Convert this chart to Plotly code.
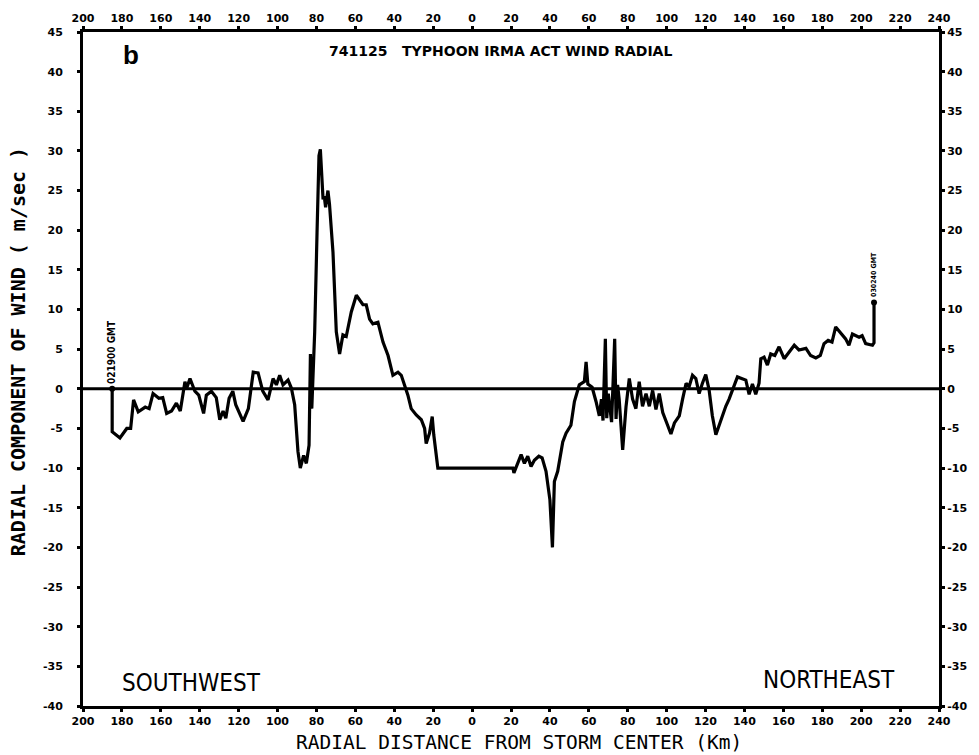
import plotly.graph_objects as go

# Radial distance from storm centre (km): negative = southwest leg, positive = northeast leg
distance_km = [
    -185.0, -185.0, -181.0, -177.5, -175.5, -174.0, -171.6, -168.0, -166.0, -164.0,
    -161.0, -159.0, -157.0, -154.5, -152.0, -150.0, -147.6, -146.8, -145.0, -142.5,
    -140.5, -138.0, -136.6, -134.0, -131.5, -129.7, -128.0, -126.6, -124.9, -123.0,
    -121.5, -117.7, -115.0, -112.5, -110.0, -107.6, -104.9, -102.3, -100.6, -98.9,
    -97.2, -94.6, -92.9, -91.2, -89.5, -88.3, -86.6, -85.2, -83.8, -83.1,
    -82.4, -81.7, -80.9, -79.7, -78.7, -78.0, -77.3, -76.6, -76.0, -75.3,
    -74.1, -73.3, -71.5, -69.8, -68.1, -66.4, -64.7, -62.1, -59.5, -57.8,
    -56.1, -54.4, -52.7, -51.0, -48.4, -45.8, -43.2, -40.7, -38.1, -36.4,
    -34.7, -33.0, -31.3, -28.7, -26.1, -24.4, -23.6, -21.9, -20.5, -19.7,
    -17.6, 21.0, 21.5, 23.5, 25.2, 26.9, 28.6, 30.3, 32.0, 34.3,
    36.0, 38.0, 40.0, 41.3, 42.3, 44.0, 46.6, 48.3, 50.8, 52.6,
    55.1, 57.7, 58.6, 59.5, 61.7, 63.7, 65.4, 66.5, 67.3, 68.5,
    69.2, 70.0, 70.8, 71.7, 72.5, 73.3, 74.0, 74.8, 75.6, 77.4,
    79.1, 80.8, 82.5, 84.2, 85.9, 87.6, 89.4, 91.1, 92.8, 94.5,
    96.2, 98.0, 100.5, 102.2, 104.0, 106.5, 108.2, 110.0, 111.6, 113.3,
    115.0, 116.7, 118.4, 120.1, 121.8, 123.5, 125.3, 127.0, 128.7, 130.4,
    132.1, 133.8, 136.4, 138.5, 140.7, 142.4, 144.1, 145.8, 147.5, 148.4,
    150.1, 151.8, 153.5, 155.6, 157.8, 160.4, 162.8, 165.6, 168.0, 171.6,
    174.0, 176.7, 179.0, 180.9, 183.0, 185.0, 186.9, 189.5, 192.0, 193.7,
    195.5, 198.9, 200.5, 202.3, 205.8, 206.6, 206.6,
]

# Radial component of the wind (m/sec)
radial_wind = [
    0.0, -5.4, -6.2, -5.0, -5.0, -1.4, -2.9, -2.3, -2.5, -0.6,
    -1.2, -1.1, -3.1, -2.8, -1.8, -2.8, 0.9, 0.0, 1.3, -0.3,
    -0.8, -3.1, -0.8, -0.3, -1.1, -3.9, -2.8, -3.7, -1.2, -0.3,
    -2.0, -4.1, -2.5, 2.1, 2.0, -0.3, -1.4, 1.3, 0.5, 1.7,
    0.5, 1.1, 0.1, -2.0, -7.9, -10.0, -8.4, -9.4, -7.1, 4.4,
    -2.5, 1.3, 7.2, 19.7, 29.4, 30.2, 27.0, 23.9, 24.3, 22.9,
    25.0, 23.3, 17.2, 7.2, 4.4, 6.8, 6.6, 9.7, 11.8, 11.2,
    10.6, 10.6, 8.8, 8.2, 8.4, 5.9, 4.2, 1.7, 2.1, 1.7,
    0.5, -0.8, -2.5, -3.3, -3.9, -5.0, -6.9, -5.6, -3.5, -5.8,
    -10.0, -10.0, -10.6, -9.2, -8.3, -9.4, -8.5, -9.8, -9.0, -8.5,
    -8.7, -10.4, -14.0, -20.0, -11.7, -10.4, -6.7, -5.6, -4.6, -1.6,
    0.5, 0.9, 3.4, 0.6, 0.2, -1.6, -3.4, -1.3, -4.0, 6.3,
    -3.7, -0.6, -2.5, -4.2, 1.0, 6.3, -3.8, 0.5, -1.3, -7.7,
    -2.3, 1.3, -1.3, -2.5, 0.9, -2.2, -0.6, -2.2, -0.2, -2.6,
    -0.6, -3.0, -4.6, -5.7, -4.3, -3.4, -1.3, 0.7, 0.3, 1.7,
    1.3, -0.6, 0.7, 1.8, -0.1, -3.4, -5.8, -4.6, -3.4, -2.2,
    -1.3, -0.1, 1.5, 1.3, 1.1, -0.7, 0.6, -0.7, 0.7, 3.8,
    4.0, 3.0, 4.4, 4.2, 5.3, 3.8, 4.6, 5.5, 4.9, 5.1,
    4.2, 3.9, 4.2, 5.7, 6.1, 5.9, 7.8, 7.1, 6.3, 5.5,
    6.9, 6.5, 6.7, 5.7, 5.5, 5.8, 10.9,
]

x_ticks = list(range(-200, 241, 20))
x_tick_text = [str(abs(v)) for v in x_ticks]
y_ticks = list(range(-40, 46, 5))
y_tick_text = [str(v) for v in y_ticks]

x_range = [-200, 240]
y_range = [-40, 45]
baseline = 0

start_label = "021900 GMT"
end_label = "030240 GMT"

tick_font = dict(family="DejaVu Sans, Arial", size=11, color="black", weight="bold")
mono_bold = "DejaVu Sans Mono, Liberation Mono, monospace"
narrow = "Liberation Sans Narrow, Arial Narrow, DejaVu Sans Condensed, Liberation Sans, sans-serif"

fig = go.Figure()

# Zero reference line across the whole panel
fig.add_trace(go.Scatter(
    x=x_range, y=[baseline, baseline], mode="lines",
    line=dict(color="black", width=3), hoverinfo="skip", showlegend=False,
))

# Radial wind trace
fig.add_trace(go.Scatter(
    x=distance_km, y=radial_wind, mode="lines",
    line=dict(color="black", width=3.2), showlegend=False,
))

# Start / end markers
fig.add_trace(go.Scatter(
    x=[distance_km[0], distance_km[-1]], y=[radial_wind[0], radial_wind[-1]],
    mode="markers", marker=dict(color="black", size=6), showlegend=False,
))

# Invisible copy that carries the top and right axes
fig.add_trace(go.Scatter(
    x=distance_km, y=radial_wind, xaxis="x2", yaxis="y2", mode="lines",
    line=dict(color="rgba(0,0,0,0)", width=0), hoverinfo="skip", showlegend=False,
))

axis_common = dict(
    showline=True, linecolor="black", linewidth=3,
    showgrid=False, zeroline=False,
    ticks="outside", ticklen=3, tickwidth=3, tickcolor="black",
    tickfont=tick_font, fixedrange=True,
)

fig.update_layout(
    width=979, height=755,
    margin=dict(l=83, r=39, t=29, b=49),
    paper_bgcolor="white", plot_bgcolor="white",
    xaxis=dict(range=x_range, tickmode="array", tickvals=x_ticks, ticktext=x_tick_text,
               side="bottom", **axis_common),
    xaxis2=dict(range=x_range, tickmode="array", tickvals=x_ticks, ticktext=x_tick_text,
                side="top", overlaying="x", **axis_common),
    yaxis=dict(range=y_range, tickmode="array", tickvals=y_ticks, ticktext=y_tick_text,
               side="left", ticklabelstandoff=12, **axis_common),
    yaxis2=dict(range=y_range, tickmode="array", tickvals=y_ticks, ticktext=y_tick_text,
                side="right", overlaying="y", **axis_common),
)


def paper_text(text, x, y, font, angle=0):
    fig.add_annotation(
        text=text, xref="paper", yref="paper", x=x, y=y,
        xanchor="center", yanchor="middle", textangle=angle,
        showarrow=False, font=font,
    )


paper_text("741125   TYPHOON IRMA ACT WIND RADIAL", 0.488, 0.972,
           dict(family="DejaVu Sans, Arial", size=14, color="black", weight="bold"))
paper_text("b", 0.056, 0.966,
           dict(family="Liberation Sans, Arial", size=26, color="black", weight="bold"))
paper_text("RADIAL COMPONENT OF WIND ( m/sec )", -0.0758, 0.525,
           dict(family=mono_bold, size=20, color="black", weight="bold"), angle=-90)
paper_text("RADIAL DISTANCE FROM STORM CENTER (Km)", 0.509, -0.0547,
           dict(family=mono_bold, size=19.5, color="black"))
paper_text("SOUTHWEST", 0.127, 0.034, dict(family=narrow, size=24, color="black"))
paper_text("NORTHEAST", 0.872, 0.039, dict(family=narrow, size=24, color="black"))

fig.add_annotation(
    text=start_label, x=distance_km[0], y=radial_wind[0], xref="x", yref="y",
    textangle=-90, xanchor="center", yanchor="bottom", yshift=3, showarrow=False,
    font=dict(family="DejaVu Sans Condensed, DejaVu Sans", size=10, color="black", weight="bold"),
)
fig.add_annotation(
    text=end_label, x=distance_km[-1], y=radial_wind[-1], xref="x", yref="y",
    textangle=-90, xanchor="center", yanchor="bottom", yshift=3, showarrow=False,
    font=dict(family="DejaVu Sans Condensed, DejaVu Sans", size=7, color="black", weight="bold"),
)

assert len(distance_km) == len(radial_wind)

fig.write_html("out.html")
